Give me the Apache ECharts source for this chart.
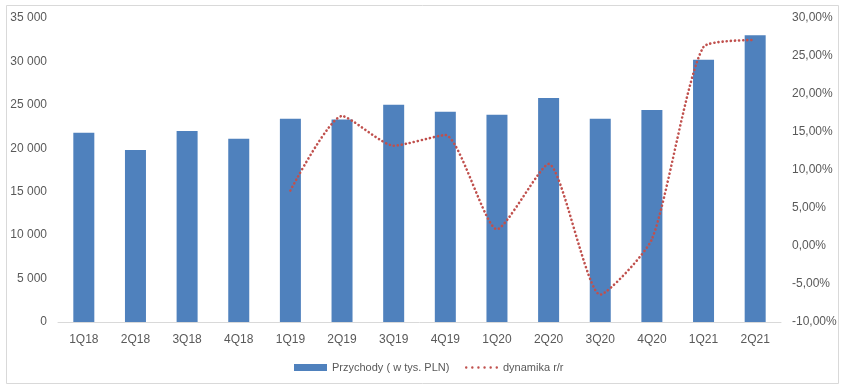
<!DOCTYPE html>
<html><head><meta charset="utf-8">
<script src="https://cdn.jsdelivr.net/npm/echarts@6/dist/echarts.min.js"></script>
<style>html,body{margin:0;padding:0;background:#fff}#c{width:845px;height:390px}</style>
</head><body><div id="c"></div>
<script>
var categories = ['1Q18','2Q18','3Q18','4Q18','1Q19','2Q19','3Q19','4Q19','1Q20','2Q20','3Q20','4Q20','1Q21','2Q21'];
var revenue = [21800,19800,22000,21100,23400,23300,25000,24200,23850,25800,23400,24400,30200,33000];
var dynamics = [null,null,null,null,7.3,17.1,13.2,14.6,2.2,10.8,-6.4,0.9,26.2,27.1];
var leftTicks = {min:0,max:35000,interval:5000};
var rightTicks = {min:-10,max:30,interval:5};

var font = 'Liberation Sans, Arial, sans-serif';
var txt = '#595959';
var dotPath = 'path://';
for (var i = 0; i < 6; i++) {
  var x = i * 6;
  dotPath += 'M' + x + ' 1.2a1.2 1.2 0 1 0 2.4 0a1.2 1.2 0 1 0 -2.4 0Z';
}
var chart = echarts.init(document.getElementById('c'));
chart.setOption({
  animation:false,
  backgroundColor:'#fff',
  textStyle:{fontFamily:font},
  graphic:[{type:'rect',shape:{x:6.5,y:5.5,width:832,height:378},style:{fill:'none',stroke:'#d9d9d9',lineWidth:1},silent:true}],
  grid:{left:58,right:64,top:18,bottom:68},
  legend:[
    {left:289,top:357,itemWidth:33,itemHeight:7,itemGap:5,
     textStyle:{color:txt,fontSize:11,fontFamily:font},
     data:[{name:'Przychody ( w tys. PLN)',icon:'rect'}]},
    {left:460,top:357,itemWidth:33,itemHeight:3,
     textStyle:{color:txt,fontSize:11,fontFamily:font},
     data:[{name:'dynamika r/r',icon:dotPath,itemStyle:{color:'#C0504D'}}]}
  ],
  xAxis:{type:'category',data:categories,
    axisLine:{lineStyle:{color:'#d9d9d9'}},axisTick:{show:false},
    axisLabel:{color:txt,fontSize:12,margin:12,fontFamily:font}},
  yAxis:[
    {type:'value',min:leftTicks.min,max:leftTicks.max,interval:leftTicks.interval,splitLine:{show:false},
     axisLine:{show:false},axisTick:{show:false},
     axisLabel:{color:txt,fontSize:12,margin:11,fontFamily:font,formatter:function(v){return String(v).replace(/\B(?=(\d{3})+(?!\d))/g,' ');}}},
    {type:'value',min:rightTicks.min,max:rightTicks.max,interval:rightTicks.interval,splitLine:{show:false},
     axisLine:{show:false},axisTick:{show:false},
     axisLabel:{color:txt,fontSize:12,margin:11,fontFamily:font,formatter:function(v){return v.toFixed(2).replace('.',',')+'%';}}}
  ],
  series:[
    {name:'Przychody ( w tys. PLN)',type:'bar',data:revenue,barWidth:21,itemStyle:{color:'#4F81BD'}},
    {name:'dynamika r/r',type:'line',yAxisIndex:1,data:dynamics,smooth:0.2,symbol:'none',connectNulls:false,
     itemStyle:{color:'#C0504D'},
     lineStyle:{color:'#C0504D',width:2.6,type:[0.1,4],cap:'round'}}
  ]
});
</script></body></html>
